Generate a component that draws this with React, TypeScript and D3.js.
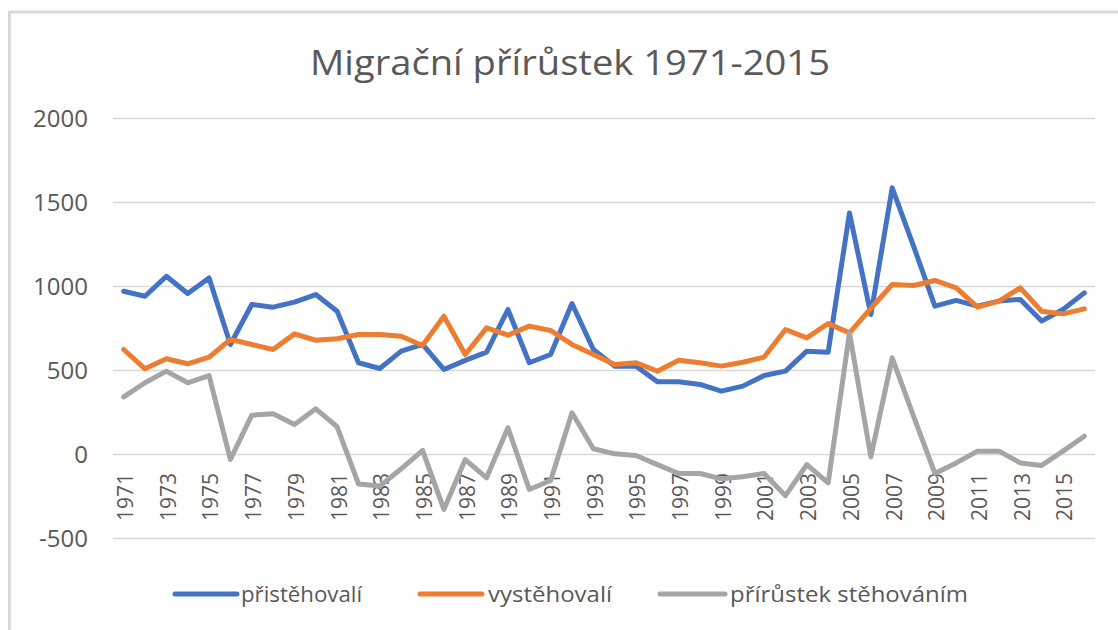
import React from 'react';
import * as d3 from 'd3';

const years = [
  1971, 1972, 1973, 1974, 1975, 1976, 1977, 1978, 1979, 1980,
  1981, 1982, 1983, 1984, 1985, 1986, 1987, 1988, 1989, 1990,
  1991, 1992, 1993, 1994, 1995, 1996, 1997, 1998, 1999, 2000,
  2001, 2002, 2003, 2004, 2005, 2006, 2007, 2008, 2009, 2010,
  2011, 2012, 2013, 2014, 2015, 2016,
];

const pristehovali = [
  972, 942, 1061, 958, 1051, 655, 893, 877, 907, 952,
  853, 546, 512, 615, 655, 506, 560, 609, 863, 546,
  595, 899, 625, 526, 526, 433, 433, 417, 377, 407,
  470, 496, 615, 609, 1438, 833, 1587, 1240, 883, 917,
  883, 913, 923, 794, 863, 962,
];

const vystehovali = [
  625, 510, 570, 540, 579, 685, 655, 625, 718, 680,
  689, 714, 714, 704, 649, 823, 595, 754, 710, 764,
  738, 655, 595, 536, 546, 496, 561, 546, 526, 549,
  580, 744, 694, 780, 724, 870, 1012, 1006, 1036, 992,
  877, 913, 992, 853, 837, 867,
];

const prirustek = [
  343, 427, 496, 427, 470, -30, 234, 242, 179, 272,
  165, -175, -188, -85, 25, -327, -30, -139, 159, -208,
  -155, 248, 34, 4, -6, -60, -113, -113, -145, -133,
  -113, -245, -60, -169, 724, -14, 575, 228, -113, -50,
  20, 20, -50, -65, 20, 109,
];

const yTicks = [-500, 0, 500, 1000, 1500, 2000];
const xTickLabels = years.filter((y) => y % 2 === 1 && y <= 2015);

const series = [
  { name: 'přistěhovalí', values: pristehovali, color: '#4472C4' },
  { name: 'vystěhovalí', values: vystehovali, color: '#ED7D31' },
  { name: 'přírůstek stěhováním', values: prirustek, color: '#A5A5A5' },
];

const W = 1118;
const H = 630;
const font = '"Open Sans", sans-serif';
const textColor = '#595959';

export default function App() {
  const xScale = d3.scalePoint<number>()
    .domain(years)
    .range([113, 1095])
    .padding(0.5);

  const yScale = d3.scaleLinear()
    .domain([-500, 2000])
    .range([538.5, 118.5]);

  const line = d3.line<number>()
    .x((d, i) => xScale(years[i]) as number)
    .y((d) => yScale(d));

  // legend layout: swatch start/end, text start and text width (text is a bit wide in the original)
  const legendPos = [
    { x1: 175, x2: 237, tx: 241, tw: 121 },
    { x1: 420, x2: 482, tx: 488, tw: 124 },
    { x1: 660, x2: 725, tx: 730, tw: 238 },
  ];

  return (
    <svg width={W} height={H} style={{ position: 'absolute', left: 0, top: 0, background: '#fff' }}>
      <rect x={0} y={0} width={W} height={H} fill="#fff" />
      {/* frame of the chart, only top and left edge are visible */}
      <line x1={8} x2={W} y1={12} y2={12} stroke="#D9D9D9" strokeWidth={3} />
      <line x1={9.5} x2={9.5} y1={11} y2={H} stroke="#D9D9D9" strokeWidth={3} />

      <text
        x={310}
        y={75}
        textLength={520}
        lengthAdjust="spacingAndGlyphs"
        style={{ fontFamily: font, fontSize: 34, fill: textColor }}
      >
        Migrační přírůstek 1971-2015
      </text>

      {
        yTicks.map((t) => (
          <g key={t}>
            <line x1={113} x2={1095} y1={yScale(t)} y2={yScale(t)} stroke="#D9D9D9" strokeWidth={1.5} />
            <text
              x={88}
              y={yScale(t)}
              dy="0.35em"
              textAnchor="end"
              style={{ fontFamily: font, fontSize: 24, fill: textColor }}
            >
              {t}
            </text>
          </g>
        ))
      }

      {
        xTickLabels.map((yr) => {
          const x = (xScale(yr) as number) + 2;
          return (
            <text
              key={yr}
              transform={`translate(${x},473) rotate(-90)`}
              dy="0.35em"
              textAnchor="end"
              style={{ fontFamily: font, fontSize: 21, fill: textColor }}
            >
              {yr}
            </text>
          );
        })
      }

      {
        series.map((s) => (
          <path
            key={s.name}
            d={line(s.values) || ''}
            fill="none"
            stroke={s.color}
            strokeWidth={5}
            strokeLinejoin="round"
            strokeLinecap="round"
          />
        ))
      }

      {
        series.map((s, i) => (
          <g key={s.name}>
            <line
              x1={legendPos[i].x1}
              x2={legendPos[i].x2}
              y1={594}
              y2={594}
              stroke={s.color}
              strokeWidth={5}
              strokeLinecap="round"
            />
            <text
              x={legendPos[i].tx}
              y={594}
              dy="0.35em"
              textLength={legendPos[i].tw}
              lengthAdjust="spacingAndGlyphs"
              style={{ fontFamily: font, fontSize: 22, fill: textColor }}
            >
              {s.name}
            </text>
          </g>
        ))
      }
    </svg>
  );
}
